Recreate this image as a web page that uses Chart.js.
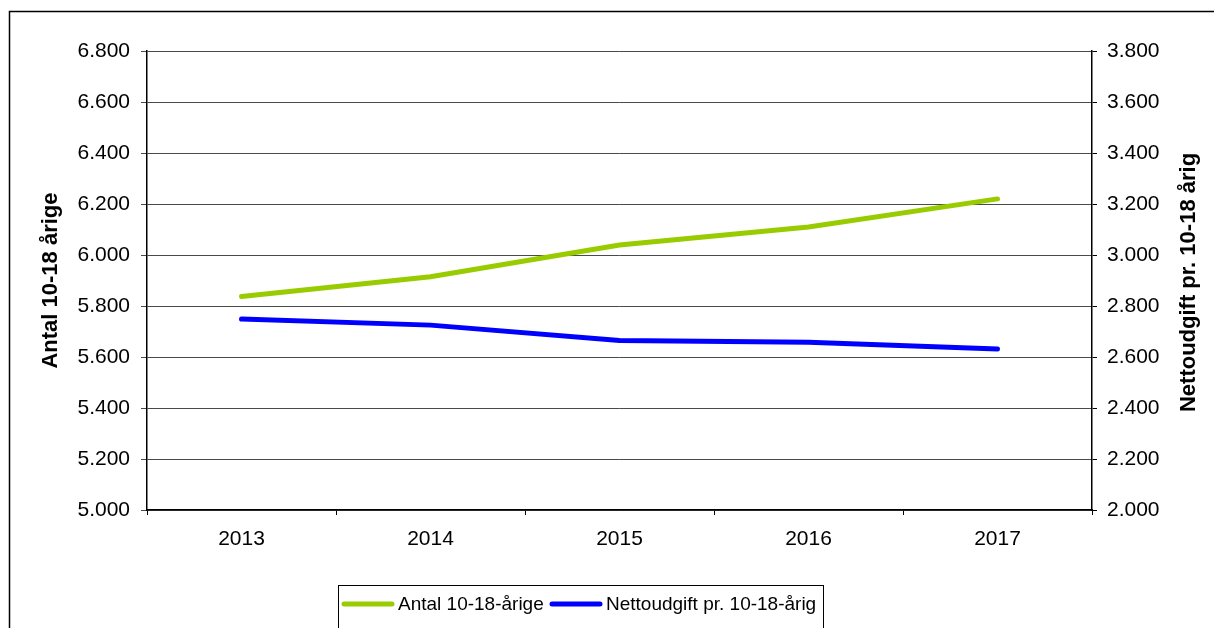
<!DOCTYPE html>
<html>
<head>
<meta charset="utf-8">
<script src="https://cdn.jsdelivr.net/npm/chart.js@4"></script>
<style>
  html, body { margin: 0; padding: 0; background: #fff; }
  #wrap { width: 1214px; height: 628px; position: relative; }
</style>
</head>
<body>
<div id="wrap"><canvas id="chart" width="1214" height="628"></canvas></div>
<script>
const years = ["2013", "2014", "2015", "2016", "2017"];
const antal = [5837, 5915, 6039, 6110, 6220];
const nettoudgift = [2749, 2725, 2665, 2658, 2631];
const seriesNames = ["Antal 10-18-årige", "Nettoudgift pr. 10-18-årig"];
const leftTitle = "Antal 10-18 årige";
const rightTitle = "Nettoudgift pr. 10-18 årig";

const green = "#99cc00";
const blue = "#0000ff";
const fontFamily = "'Liberation Sans', Arial, sans-serif";

const fmtThousands = (v) => {
  const s = String(Math.round(v));
  return s.slice(0, s.length - 3) + "." + s.slice(-3);
};

// frame, axis titles and legend drawn by hand
const extras = {
  id: "extras",
  afterDraw(chart) {
    const ctx = chart.ctx;
    const area = chart.chartArea;
    ctx.save();
    // outer frame (top + left only visible)
    ctx.strokeStyle = "#000";
    ctx.lineWidth = 1.5;
    ctx.beginPath();
    ctx.moveTo(9.5, 640);
    ctx.lineTo(9.5, 11.5);
    ctx.lineTo(1214, 11.5);
    ctx.stroke();

    // axis titles
    ctx.fillStyle = "#000";
    ctx.font = "bold 22px " + fontFamily;
    ctx.textAlign = "center";
    ctx.textBaseline = "middle";
    const midY = (area.top + area.bottom) / 2;
    ctx.save();
    ctx.translate(51, midY);
    ctx.rotate(-Math.PI / 2);
    ctx.fillText(leftTitle, 0, 0);
    ctx.restore();
    ctx.save();
    ctx.translate(1189, midY + 2);
    ctx.rotate(-Math.PI / 2);
    ctx.fillText(rightTitle, 0, 0);
    ctx.restore();

    // legend
    ctx.lineWidth = 1;
    ctx.strokeStyle = "#000";
    ctx.strokeRect(338.5, 585.5, 485, 60);
    ctx.font = "19px " + fontFamily;
    ctx.textAlign = "left";
    const ly = 604;
    const items = [
      { x: 344, color: green, text: seriesNames[0] },
      { x: 552, color: blue, text: seriesNames[1] }
    ];
    items.forEach((it) => {
      ctx.strokeStyle = it.color;
      ctx.lineWidth = 5;
      ctx.lineCap = "round";
      ctx.beginPath();
      ctx.moveTo(it.x, ly);
      ctx.lineTo(it.x + 48, ly);
      ctx.stroke();
      ctx.fillText(it.text, it.x + 54, ly + 1);
    });
    ctx.restore();
  }
};

new Chart(document.getElementById("chart").getContext("2d"), {
  type: "line",
  data: {
    labels: years,
    datasets: [
      {
        label: seriesNames[0],
        data: antal,
        yAxisID: "y",
        borderColor: green,
        backgroundColor: green,
        borderWidth: 5,
        borderCapStyle: "round",
        pointRadius: 0,
        tension: 0
      },
      {
        label: seriesNames[1],
        data: nettoudgift,
        yAxisID: "y1",
        borderColor: blue,
        backgroundColor: blue,
        borderWidth: 5,
        borderCapStyle: "round",
        pointRadius: 0,
        tension: 0
      }
    ]
  },
  options: {
    responsive: false,
    animation: false,
    layout: { padding: { top: 51, left: 0, right: 0, bottom: 0 } },
    plugins: {
      legend: { display: false },
      tooltip: { enabled: false }
    },
    scales: {
      x: {
        offset: true,
        grid: {
          offset: true,
          drawOnChartArea: false,
          drawTicks: true,
          tickLength: 5,
          color: "#000"
        },
        border: { display: true, color: "#000", width: 1.5 },
        ticks: {
          color: "#000",
          padding: 12,
          font: { family: fontFamily, size: 21 }
        },
        afterFit(scale) { scale.height = 118; }
      },
      y: {
        position: "left",
        min: 5000,
        max: 6800,
        grid: {
          color: "#4a4a4a",
          lineWidth: 1,
          tickLength: 6,
          drawTicks: true
        },
        border: { display: true, color: "#000", width: 1.5 },
        ticks: {
          stepSize: 200,
          color: "#000",
          padding: 11,
          font: { family: fontFamily, size: 21 },
          callback: (v) => fmtThousands(v)
        },
        afterFit(scale) { scale.width = 147; }
      },
      y1: {
        position: "right",
        min: 2000,
        max: 3800,
        grid: {
          drawOnChartArea: false,
          drawTicks: true,
          tickLength: 5,
          color: "#000"
        },
        border: { display: true, color: "#000", width: 1.5 },
        ticks: {
          stepSize: 200,
          color: "#000",
          padding: 10,
          font: { family: fontFamily, size: 21 },
          callback: (v) => fmtThousands(v)
        },
        afterFit(scale) { scale.width = 122; }
      }
    }
  },
  plugins: [extras]
});
</script>
</body>
</html>
